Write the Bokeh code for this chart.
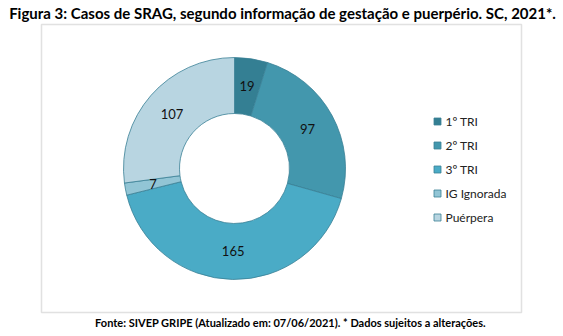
import math
from bokeh.plotting import figure
from bokeh.models import ColumnDataSource, Range1d, BoxAnnotation
from bokeh.core.properties import value
from bokeh.embed import file_html
from bokeh.resources import INLINE

categories = ["1º TRI", "2º TRI", "3º TRI", "IG Ignorada", "Puérpera"]
counts = [19, 97, 165, 7, 107]
colors = ["#347F93", "#4397AD", "#4AABC6", "#92C5D5", "#B8D5E1"]

title = "Figura 3: Casos de SRAG, segundo informação de gestação e puerpério. SC, 2021*."
footnote = "Fonte: SIVEP GRIPE (Atualizado em: 07/06/2021). * Dados sujeitos a alterações."

W, H = 563, 336
FONT = "Lato"

def sy(y):
    return H - y

p = figure(width=W, height=H, output_backend="svg", toolbar_location=None,
           x_range=Range1d(0, W), y_range=Range1d(0, H), min_border=0)
p.axis.visible = False
p.grid.visible = False
p.outline_line_color = None
p.background_fill_color = "white"
p.border_fill_color = "white"

# frame box
p.add_layout(BoxAnnotation(left=41, right=521, bottom=sy(312), top=sy(24),
                           fill_alpha=0, line_color="#9a9a9a", line_width=1.5))

cx, cy = 234, sy(168)
r_in, r_out = 55, 111
total = sum(counts)
starts, ends, lx, ly = [], [], [], []
cum = 0
for c in counts:
    a0 = math.pi / 2 - cum / total * 2 * math.pi
    cum += c
    a1 = math.pi / 2 - cum / total * 2 * math.pi
    starts.append(a0)
    ends.append(a1)
    mid = (a0 + a1) / 2
    rm = (r_in + r_out) / 2
    lx.append(cx + rm * math.cos(mid))
    ly.append(cy + rm * math.sin(mid))

src = ColumnDataSource(dict(cat=categories, val=counts, color=colors,
                            start=starts, end=ends, lx=lx, ly=ly,
                            lab=[str(v) for v in counts]))
p.annular_wedge(x=cx, y=cy, inner_radius=r_in, outer_radius=r_out,
                start_angle="start", end_angle="end", direction="clock",
                fill_color="color", line_color="#3a8095", line_width=0.8, source=src)
p.text(x="lx", y="ly", text="lab", source=src, text_align="center",
       text_baseline="middle", text_font=value(FONT), text_font_size="13px",
       text_color="#111111")

# legend
leg_y = [sy(121 + 24 * i) for i in range(len(categories))]
lsrc = ColumnDataSource(dict(x=[437] * len(categories), tx=[445] * len(categories),
                             y=leg_y, cat=categories, color=colors))
p.scatter(x="x", y="y", marker="square", size=7, fill_color="color",
          line_color="#3a8095", line_width=0.8, source=lsrc)
p.text(x="tx", y="y", text="cat", source=lsrc, text_baseline="middle",
       text_font=value(FONT), text_font_size="12px", text_color="#222222")

p.text(x=[282], y=[sy(12)], text=[title], text_align="center", text_baseline="middle",
       text_font=value(FONT), text_font_size="15px", text_font_style="bold",
       text_color="#000000")
p.text(x=[290], y=[sy(322)], text=[footnote], text_align="center", text_baseline="middle",
       text_font=value(FONT), text_font_size="11px", text_font_style="bold",
       text_color="#000000")

open("out.html", "w").write(file_html(p, INLINE))
